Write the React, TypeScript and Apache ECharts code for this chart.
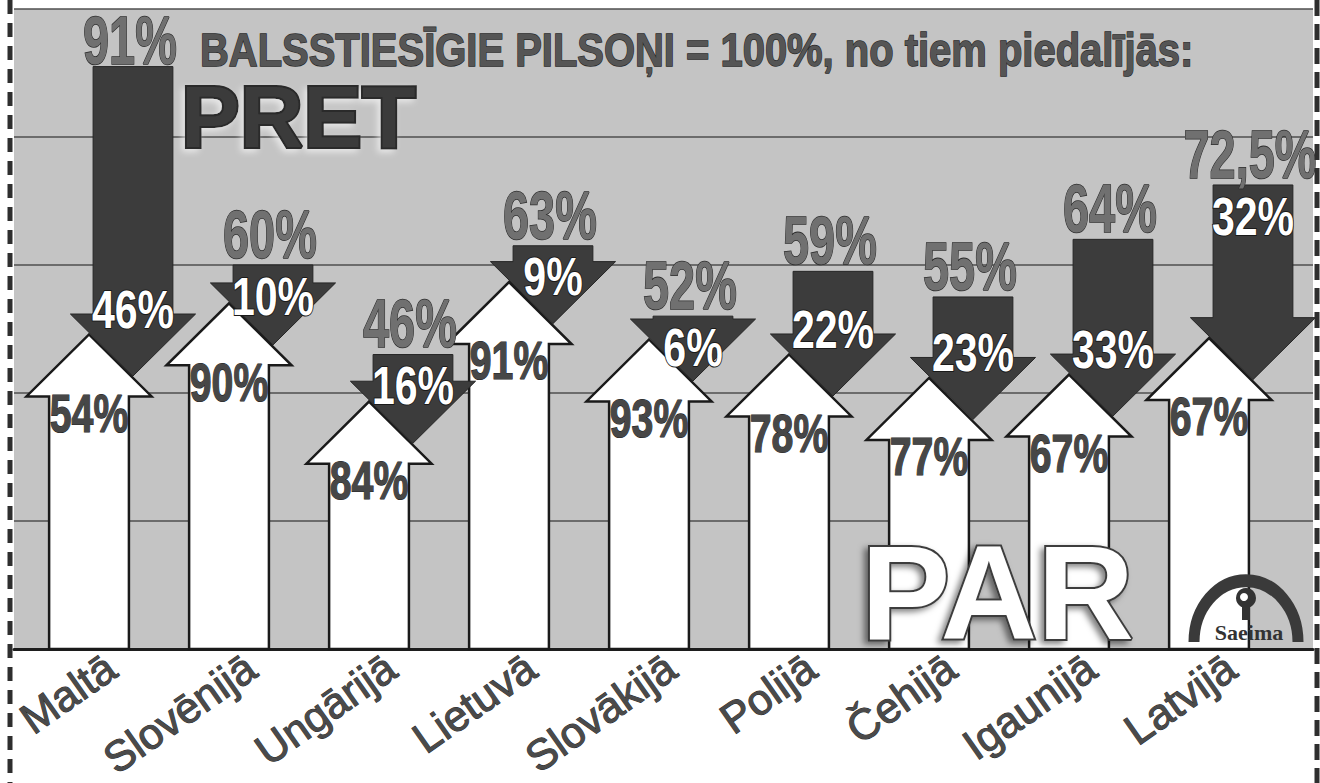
import React, { useEffect, useRef } from 'react';
import * as echarts from 'echarts';

// ---------- data ----------
const countries = ['Maltā', 'Slovēnijā', 'Ungārijā', 'Lietuvā', 'Slovākijā', 'Polijā', 'Čehijā', 'Igaunijā', 'Latvijā'];
const turnout = [91, 60, 46, 63, 52, 59, 55, 64, 72.5]; // % of eligible voters who took part
const yesPct = [54, 90, 84, 91, 93, 78, 77, 67, 67]; // PAR
const noPct = [46, 10, 16, 9, 6, 22, 23, 33, 32]; // PRET
const yTicks = [0, 20, 40, 60, 80, 100];
const titleText = 'BALSSTIESĪGIE PILSOŅI = 100%, no tiem piedalījās:';
const pretText = 'PRET';
const parText = 'PAR';
const logoText = 'Saeima';

// ---------- style / layout ----------
const FONT = '"Liberation Sans", Arial, Helvetica, sans-serif';
const OVERLAP = 6.5; // down-arrow tip sinks this far (axis units) below the up-arrow apex
const noLabelNearTop = [false, false, false, false, false, false, false, false, true];

const rows = countries.map((_, i) => [i, turnout[i], yesPct[i], noPct[i]]);

function geom(api: any) {
  const i = api.value(0);
  const bw = api.size([1, 0])[0];
  const base = api.coord([i, 0]);
  return {
    i,
    t: api.value(1),
    yes: api.value(2),
    no: api.value(3),
    cx: base[0],
    baseY: base[1],
    off: bw * 0.157,
    sh: bw * 0.285,
    hh: bw * 0.447,
    headH: bw * 0.443,
  };
}

function renderUp(_params: any, api: any) {
  const g = geom(api);
  const wx = g.cx - g.off;
  const apexY = api.coord([g.i, (g.t * g.yes) / 100])[1];
  const hb = apexY + g.headH;
  return {
    type: 'group',
    children: [
      {
        type: 'polygon',
        shape: {
          points: [
            [wx - g.sh, g.baseY],
            [wx - g.sh, hb],
            [wx - g.hh, hb],
            [wx, apexY],
            [wx + g.hh, hb],
            [wx + g.sh, hb],
            [wx + g.sh, g.baseY],
          ],
        },
        style: { fill: '#ffffff', stroke: '#1a1a1a', lineWidth: 2.5, lineJoin: 'miter' },
      },
      {
        type: 'text',
        x: wx,
        y: hb + 17,
        scaleX: 0.74,
        style: {
          text: g.yes + '%',
          fill: '#474747',
          stroke: '#1e1e1e',
          lineWidth: 1.2,
          fontSize: 53,
          fontWeight: 'bold',
          fontFamily: FONT,
          align: 'center',
          verticalAlign: 'middle',
        },
      },
    ],
  };
}

function renderDown(_params: any, api: any) {
  const g = geom(api);
  const dx = g.cx + g.off;
  const topY = api.coord([g.i, g.t])[1];
  const tipY = api.coord([g.i, (g.t * g.yes) / 100 - OVERLAP])[1];
  const hbase = Math.max(topY, tipY - g.headH);
  const pts =
    hbase > topY
      ? [
          [dx - g.sh, topY],
          [dx + g.sh, topY],
          [dx + g.sh, hbase],
          [dx + g.hh, hbase],
          [dx, tipY],
          [dx - g.hh, hbase],
          [dx - g.sh, hbase],
        ]
      : [
          [dx - g.hh, topY],
          [dx + g.hh, topY],
          [dx, tipY],
        ];
  const capTop = noLabelNearTop[g.i] ? topY + 12 : Math.max(topY + 12, hbase - 24);
  const tLabel = String(g.t).replace('.', ',') + '%';
  return {
    type: 'group',
    children: [
      {
        type: 'polygon',
        shape: { points: pts },
        style: { fill: '#3c3c3c', stroke: '#262626', lineWidth: 1 },
      },
      {
        type: 'text',
        x: dx,
        y: capTop + 19,
        scaleX: 0.76,
        style: {
          text: g.no + '%',
          fill: '#ffffff',
          stroke: '#1a1a1a',
          lineWidth: 2,
          fontSize: 54,
          fontWeight: 'bold',
          fontFamily: FONT,
          align: 'center',
          verticalAlign: 'middle',
        },
      },
      {
        type: 'text',
        x: dx - 3,
        y: Math.max(topY - 31, 40),
        scaleX: 0.69,
        style: {
          text: tLabel,
          fill: '#707070',
          stroke: '#2e2e2e',
          lineWidth: 1.5,
          fontSize: 68,
          fontWeight: 'bold',
          fontFamily: FONT,
          align: 'center',
          verticalAlign: 'middle',
        },
      },
    ],
  };
}

export default function App() {
  const ref = useRef<HTMLDivElement>(null);
  useEffect(() => {
    if (!ref.current) return;
    const chart = echarts.init(ref.current, undefined, { renderer: 'svg' });
    const logoZ = 70;
    const option: any = {
      animation: false,
      backgroundColor: '#ffffff',
      grid: [
        { left: 14, right: 7, top: 9, bottom: 134, show: true, backgroundColor: '#c4c4c4', borderWidth: 0 },
        { left: 41, right: 19, top: 9, bottom: 134 },
      ],
      xAxis: [
        {
          type: 'value',
          gridIndex: 0,
          min: 0,
          max: 1,
          axisLine: { show: true, onZero: false, lineStyle: { color: '#1e1e1e', width: 3 } },
          axisTick: { show: false },
          axisLabel: { show: false },
          splitLine: { show: false },
        },
        {
          type: 'category',
          gridIndex: 1,
          data: countries,
          axisLine: { show: false },
          axisTick: { show: false },
          axisLabel: {
            rotate: 35,
            margin: 14,
            fontSize: 43,
            fontFamily: FONT,
            color: '#4a4a4a',
            textBorderColor: '#2a2a2a',
            textBorderWidth: 1,
            interval: 0,
          },
        },
      ],
      yAxis: [
        {
          type: 'value',
          gridIndex: 0,
          min: yTicks[0],
          max: yTicks[yTicks.length - 1],
          interval: yTicks[1] - yTicks[0],
          axisLine: { show: false },
          axisTick: { show: false },
          axisLabel: { show: false },
          splitLine: { show: true, lineStyle: { color: '#4f4f4f', width: 1.5 } },
        },
        { type: 'value', gridIndex: 1, min: 0, max: 100, show: false },
      ],
      series: [
        {
          type: 'custom',
          xAxisIndex: 1,
          yAxisIndex: 1,
          data: rows,
          encode: { x: 0, y: 1 },
          renderItem: renderUp,
          clip: false,
          z: 3,
        },
        {
          type: 'custom',
          xAxisIndex: 1,
          yAxisIndex: 1,
          data: rows,
          encode: { x: 0, y: 1 },
          renderItem: renderDown,
          clip: false,
          z: 4,
        },
      ],
      graphic: [
        {
          type: 'line',
          shape: { x1: 10, y1: 0, x2: 10, y2: 783 },
          style: { stroke: '#2e2e2e', lineWidth: 5, lineDash: [14, 9] },
          z: 50,
        },
        {
          type: 'line',
          shape: { x1: 1317, y1: 0, x2: 1317, y2: 783 },
          style: { stroke: '#2e2e2e', lineWidth: 5, lineDash: [16, 8] },
          z: 50,
        },
        {
          type: 'text',
          x: 200,
          y: 50,
          scaleX: 0.85,
          z: 50,
          style: {
            text: titleText,
            fill: '#555555',
            stroke: '#2a2a2a',
            lineWidth: 1.4,
            fontSize: 47,
            fontWeight: 'bold',
            fontFamily: FONT,
            align: 'left',
            verticalAlign: 'middle',
          },
        },
        {
          type: 'text',
          x: 181,
          y: 116,
          z: 50,
          style: {
            text: pretText,
            fill: '#3a3a3a',
            stroke: '#2a2a2a',
            lineWidth: 4,
            fontSize: 88,
            fontWeight: 'bold',
            fontFamily: FONT,
            align: 'left',
            verticalAlign: 'middle',
            textShadowColor: 'rgba(255,255,255,0.6)',
            textShadowBlur: 6,
            textShadowOffsetX: -3,
            textShadowOffsetY: 3,
          },
        },
        {
          type: 'text',
          x: 861,
          y: 592,
          z: 60,
          style: {
            text: parText,
            fill: '#ffffff',
            stroke: '#3e3e3e',
            lineWidth: 4,
            fontSize: 134,
            fontWeight: 'bold',
            fontFamily: FONT,
            align: 'left',
            verticalAlign: 'middle',
            textShadowColor: 'rgba(0,0,0,0.5)',
            textShadowBlur: 6,
            textShadowOffsetX: -4,
            textShadowOffsetY: 3,
          },
        },
        {
          type: 'arc',
          x: 1246,
          y: 642,
          scaleY: 1.18,
          z: logoZ,
          shape: { cx: 0, cy: 0, r: 52, startAngle: Math.PI, endAngle: Math.PI * 2 },
          style: { stroke: '#3a3a3a', lineWidth: 11, fill: 'none' },
        },
        {
          type: 'circle',
          z: logoZ,
          shape: { cx: 1246, cy: 598, r: 10 },
          style: { fill: '#333333' },
        },
        {
          type: 'circle',
          z: logoZ,
          shape: { cx: 1244, cy: 597, r: 4 },
          style: { fill: '#ffffff' },
        },
        {
          type: 'rect',
          z: logoZ,
          shape: { x: 1242, y: 607, width: 8, height: 13 },
          style: { fill: '#333333' },
        },
        {
          type: 'text',
          x: 1249,
          y: 632,
          z: logoZ,
          style: {
            text: logoText,
            fill: '#333333',
            fontSize: 22,
            fontFamily: '"Liberation Serif", "DejaVu Serif", serif',
            fontWeight: 'bold',
            align: 'center',
            verticalAlign: 'middle',
          },
        },
      ],
    };
    chart.setOption(option);
    return () => chart.dispose();
  }, []);
  return (
    <div
      ref={ref}
      style={{ position: 'absolute', left: 0, top: 0, width: 1320, height: 783, background: '#ffffff' }}
    />
  );
}
